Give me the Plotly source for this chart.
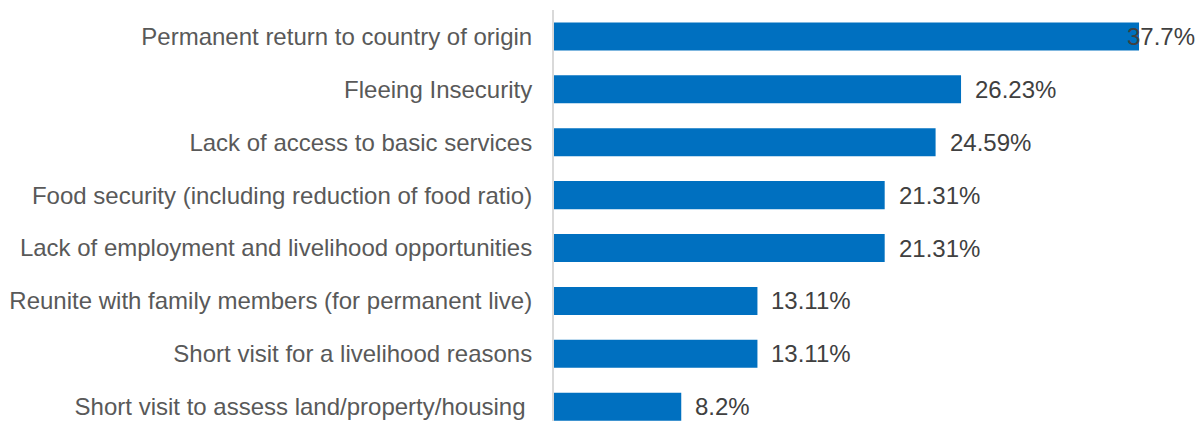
import plotly.graph_objects as go

categories = [
    "Permanent return to country of origin",
    "Fleeing Insecurity",
    "Lack of access to basic services",
    "Food security (including reduction of food ratio)",
    "Lack of employment and livelihood opportunities",
    "Reunite with family members (for permanent live)",
    "Short visit for a livelihood reasons",
    "Short visit to assess land/property/housing ",
]
values = [37.7, 26.23, 24.59, 21.31, 21.31, 13.11, 13.11, 8.2]
value_labels = ["37.7%", "26.23%", "24.59%", "21.31%", "21.31%", "13.11%", "13.11%", "8.2%"]

BAR_COLOR = "#0070C0"
LABEL_COLOR = "#595959"
VALUE_COLOR = "#404040"
FONT = "Liberation Sans, Arial, sans-serif"
FSIZE = 24

fig = go.Figure(go.Bar(
    y=categories, x=values, orientation="h",
    marker=dict(color=BAR_COLOR, line=dict(width=0)),
    hoverinfo="skip",
))

vmax = max(values)
for cat, v, lab in zip(categories, values, value_labels):
    if v == vmax:
        fig.add_annotation(x=1, xref="paper", y=cat, yref="y", text=lab,
                           xanchor="right", showarrow=False, xshift=-1,
                           font=dict(size=FSIZE, color=VALUE_COLOR, family=FONT))
    else:
        fig.add_annotation(x=v, xref="x", y=cat, yref="y", text=lab,
                           xanchor="left", showarrow=False, xshift=12,
                           font=dict(size=FSIZE, color=VALUE_COLOR, family=FONT))

fig.update_layout(
    width=1198, height=421,
    margin=dict(l=554, r=0, t=10, b=0),
    paper_bgcolor="white", plot_bgcolor="white",
    bargap=0.47, showlegend=False,
    font=dict(family=FONT, size=FSIZE, color=LABEL_COLOR),
)
fig.update_xaxes(range=[0, 41.5], visible=False, showgrid=False, zeroline=False)
fig.update_yaxes(type="category", range=[7.27, -0.5], showgrid=False, zeroline=False,
                 showline=True, linecolor="#D9D9D9", linewidth=2,
                 ticks="", ticklabelstandoff=15,
                 tickfont=dict(size=FSIZE, color=LABEL_COLOR, family=FONT))

fig.write_html("out.html")
